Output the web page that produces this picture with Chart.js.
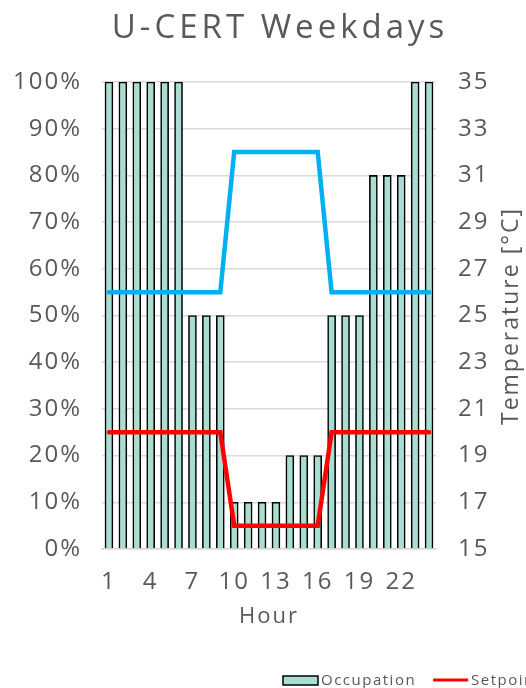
<!DOCTYPE html>
<html>
<head>
<meta charset="utf-8">
<script src="https://cdn.jsdelivr.net/npm/chart.js@4/dist/chart.umd.min.js"></script>
<style>
  html, body { margin: 0; padding: 0; background: #fff; overflow: hidden; }
  #wrap { width: 526px; height: 688px; }
</style>
</head>
<body>
<div id="wrap"><canvas id="Chart"></canvas></div>
<script>
const chartTitle = 'U-CERT Weekdays';
const rightAxisTitle = 'Temperature [°C]';
const hours = ['1','2','3','4','5','6','7','8','9','10','11','12','13','14','15','16','17','18','19','20','21','22','23','24'];
const occupation = [100,100,100,100,100,100,50,50,50,10,10,10,10,20,20,20,50,50,50,80,80,80,100,100];
const setpointHeating = [20,20,20,20,20,20,20,20,20,16,16,16,16,16,16,16,20,20,20,20,20,20,20,20];
const setpointCooling = [26,26,26,26,26,26,26,26,26,32,32,32,32,32,32,32,26,26,26,26,26,26,26,26];

const FONT = '"Open Sans", sans-serif';
const GREY = '#595959';

// wider lettering, closer to the original typeface
const spacing = {
    id: 'spacing',
    beforeUpdate(chart) { chart.ctx.letterSpacing = '2px'; },
    beforeDraw(chart) { chart.ctx.letterSpacing = '2px'; }
};

// title, right axis title (reads upwards) and legend drawn by hand
const extras = {
    id: 'extras',
    afterDraw(chart) {
        const ctx = chart.ctx;
        ctx.save();
        ctx.letterSpacing = '4px';
        ctx.font = '33px ' + FONT;
        ctx.fillStyle = GREY;
        ctx.textAlign = 'center';
        ctx.textBaseline = 'alphabetic';
        ctx.fillText(chartTitle, 280, 38);
        ctx.restore();

        ctx.save();
        ctx.letterSpacing = '2px';
        ctx.font = '23px ' + FONT;
        ctx.fillStyle = GREY;
        ctx.textAlign = 'center';
        ctx.textBaseline = 'middle';
        ctx.translate(511, 316);
        ctx.rotate(-Math.PI / 2);
        ctx.fillText(rightAxisTitle, 0, 0);
        ctx.restore();

        let x = 283;
        const y = 680;
        ctx.save();
        ctx.letterSpacing = '1.5px';
        ctx.font = '15px ' + FONT;
        ctx.textBaseline = 'middle';
        chart.data.datasets.forEach(ds => {
            if (ds.type === 'bar') {
                ctx.fillStyle = ds.backgroundColor;
                ctx.fillRect(x, y - 4, 35, 9);
                ctx.lineWidth = 1.5;
                ctx.strokeStyle = ds.borderColor;
                ctx.strokeRect(x, y - 4, 35, 9);
            } else {
                ctx.beginPath();
                ctx.moveTo(x, y);
                ctx.lineTo(x + 35, y);
                ctx.lineWidth = 3;
                ctx.strokeStyle = ds.borderColor;
                ctx.stroke();
            }
            ctx.fillStyle = GREY;
            ctx.fillText(ds.label, x + 38, y + 1);
            x += 38 + ctx.measureText(ds.label).width + 17;
        });
        ctx.restore();
    }
};

let barChartElement = document.getElementById('Chart').getContext('2d');
let barChart = new Chart(barChartElement, {
    type: 'bar',
    data: {
        labels: hours,
        datasets: [
            {
                type: 'bar',
                label: 'Occupation',
                data: occupation,
                backgroundColor: 'rgb(170,221,209)',
                borderColor: '#000000',
                borderWidth: 1.6,
                barThickness: 8,
                yAxisID: 'y',
                order: 2
            },
            {
                type: 'line',
                label: 'Setpoint heating',
                data: setpointHeating,
                borderColor: '#ff0000',
                borderWidth: 4.5,
                pointRadius: 0,
                tension: 0,
                borderCapStyle: 'round',
                yAxisID: 'y2',
                order: 1
            },
            {
                type: 'line',
                label: 'Setpoint cooling',
                data: setpointCooling,
                borderColor: '#00b0f0',
                borderWidth: 4.5,
                pointRadius: 0,
                tension: 0,
                borderCapStyle: 'round',
                yAxisID: 'y2',
                order: 0
            }
        ]
    },
    options: {
        animation: false,
        responsive: true,
        maintainAspectRatio: false,
        layout: {
            padding: { left: 0, right: 1, top: 82, bottom: 58 }
        },
        plugins: {
            legend: { display: false },
            tooltip: { enabled: false },
            title: { display: false }
        },
        scales: {
            x: {
                grid: { display: false, drawTicks: false },
                border: { display: true, color: '#d9d9d9', width: 1.5 },
                ticks: {
                    color: GREY,
                    font: { family: FONT, size: 24 },
                    padding: 19,
                    maxRotation: 0,
                    autoSkip: false,
                    callback: function (v, i) { return i % 3 === 0 ? this.getLabelForValue(v) : ''; }
                },
                title: {
                    display: true,
                    text: 'Hour',
                    color: GREY,
                    font: { family: FONT, size: 22 },
                    padding: 0
                },
                afterFit: s => { s.height = 81; }
            },
            y: {
                position: 'left',
                min: 0,
                max: 100,
                grid: { color: '#d9d9d9', lineWidth: 1.5, drawTicks: false },
                border: { display: false },
                ticks: {
                    stepSize: 10,
                    color: GREY,
                    font: { family: FONT, size: 24 },
                    padding: 20,
                    callback: v => v + '%'
                },
                afterFit: s => { s.width = 102; }
            },
            y2: {
                position: 'right',
                min: 15,
                max: 35,
                grid: { display: false, drawTicks: false },
                border: { display: false },
                ticks: {
                    stepSize: 2,
                    color: GREY,
                    font: { family: FONT, size: 24 },
                    padding: 22
                },
                afterFit: s => { s.width = 89; }
            }
        }
    },
    plugins: [spacing, extras]
});
</script>
</body>
</html>
